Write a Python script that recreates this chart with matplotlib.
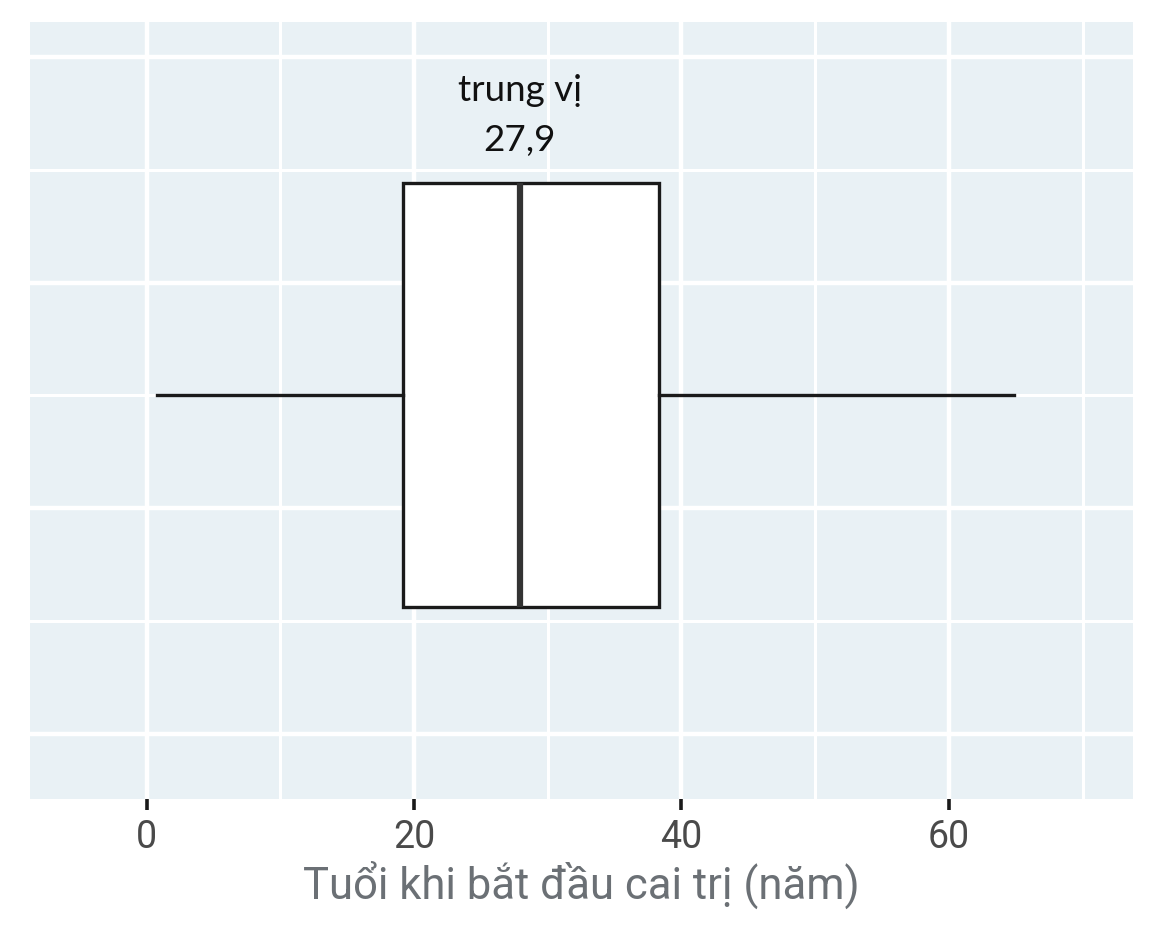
import numpy as np
import matplotlib.pyplot as plt
from matplotlib.ticker import MultipleLocator

# boxplot summary (tuổi khi bắt đầu cai trị, năm)
whisker_low = 0.75
q1 = 19.2
median = 27.9
q3 = 38.3
whisker_high = 64.9

x_ticks = [0, 20, 40, 60]
x_tick_labels = ['0', '20', '40', '60']
x_label = 'Tuổi khi bắt đầu cai trị (năm)'
note_text = 'trung vị\n27,9'

panel_bg = '#e9f1f5'

fig = plt.figure(figsize=(11.52, 9.28), dpi=100)
ax = fig.add_axes([0.026, 0.1379, 0.9573, 0.8373])
ax.set_facecolor(panel_bg)

stats = [dict(whislo=whisker_low, q1=q1, med=median, q3=q3,
              whishi=whisker_high, fliers=[])]
ax.bxp(stats, positions=[0], widths=3.76, orientation='horizontal',
       showcaps=False, patch_artist=True, manage_ticks=False,
       boxprops=dict(facecolor='white', edgecolor='#1a1a1a', linewidth=2.4),
       medianprops=dict(color='#333333', linewidth=4.5, solid_capstyle='butt'),
       whiskerprops=dict(color='#1a1a1a', linewidth=2.4))

ax.set_xlim(-8.72, 73.75)
ax.set_ylim(-3.58, 3.31)

# grid like the reference: thick and thin white lines
ax.set_xticks(x_ticks)
ax.set_xticklabels(x_tick_labels)
ax.xaxis.set_minor_locator(MultipleLocator(10))
ax.set_yticks([-3, -1, 1, 3])
ax.set_yticks([-2, 0, 2], minor=True)
ax.grid(which='major', color='white', linewidth=3.2)
ax.grid(which='minor', color='white', linewidth=2.2)
ax.set_axisbelow(True)

ax.tick_params(axis='x', which='major', length=8, width=2.6, color='#1a1a1a',
               labelsize=27, labelcolor='#4a4a4a', pad=6)
ax.tick_params(axis='x', which='minor', length=0)
ax.tick_params(axis='y', which='both', length=0, labelleft=False)
for lab in ax.get_xticklabels():
    lab.set_family(['Roboto', 'DejaVu Sans'])

for s in ax.spines.values():
    s.set_visible(False)

ax.set_xlabel(x_label, fontsize=31.4, color='#6b7075',
              family=['Roboto', 'DejaVu Sans'], labelpad=3)

ax.text(median, 2.49, note_text, ha='center', va='center', fontsize=26.5,
        color='#111111', family=['Lato', 'DejaVu Sans'], linespacing=1.6)

fig.savefig('out.png', dpi=100, facecolor='white')
